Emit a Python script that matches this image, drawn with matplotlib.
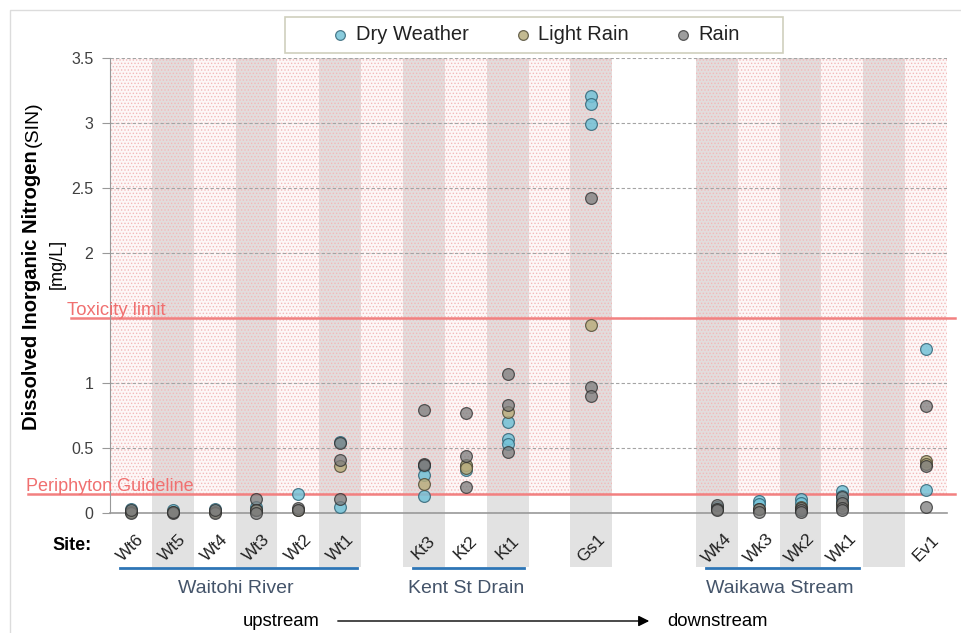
import numpy as np
import matplotlib
matplotlib.use("Agg")
import matplotlib.pyplot as plt
from matplotlib.patches import Rectangle
from matplotlib.lines import Line2D
from matplotlib.ticker import FuncFormatter
from matplotlib.transforms import blended_transform_factory

plt.rcParams['font.family'] = ['Liberation Sans', 'DejaVu Sans']
plt.rcParams['hatch.linewidth'] = 0.6

# column layout along the x axis ("" = empty column)
slots = ["Wt6", "Wt5", "Wt4", "Wt3", "Wt2", "Wt1", "", "Kt3", "Kt2", "Kt1",
         "", "Gs1", "", "", "Wk4", "Wk3", "Wk2", "Wk1", "", "Ev1"]
shaded = [1, 3, 5, 7, 9, 11, 14, 16, 18]
hatched_spans = [(0, 11), (14, 19)]

groups = [("Waitohi River", "Wt6", "Wt1"),
          ("Kent St Drain", "Kt3", "Kt1"),
          ("Waikawa Stream", "Wk4", "Wk1")]

# SIN [mg/L] per site and weather
dry = {
    "Wt6": [0.03, 0.01], "Wt5": [0.02], "Wt4": [0.03], "Wt3": [0.05, 0.02],
    "Wt2": [0.15], "Wt1": [0.55, 0.05],
    "Kt3": [0.36, 0.29, 0.13], "Kt2": [0.36, 0.33], "Kt1": [0.70, 0.57, 0.53],
    "Gs1": [3.21, 3.15, 2.99],
    "Wk4": [0.05], "Wk3": [0.09, 0.07], "Wk2": [0.11, 0.08, 0.02],
    "Wk1": [0.17, 0.13, 0.09], "Ev1": [1.26, 0.18],
}
light_rain = {
    "Wt6": [0.01], "Wt5": [0.01], "Wt4": [0.01], "Wt3": [0.02], "Wt2": [0.02],
    "Wt1": [0.36], "Kt3": [0.22], "Kt2": [0.37, 0.35], "Kt1": [0.78],
    "Gs1": [1.45], "Wk4": [0.03], "Wk3": [0.03], "Wk2": [0.05], "Wk1": [0.06],
    "Ev1": [0.40, 0.38],
}
rain = {
    "Wt6": [0.0, 0.02], "Wt5": [0.0, 0.01], "Wt4": [0.0, 0.02],
    "Wt3": [0.11, 0.02, 0.0], "Wt2": [0.04, 0.02], "Wt1": [0.54, 0.41, 0.11],
    "Kt3": [0.79, 0.38, 0.37], "Kt2": [0.77, 0.44, 0.20],
    "Kt1": [1.07, 0.83, 0.47], "Gs1": [2.42, 0.97, 0.90],
    "Wk4": [0.06, 0.03, 0.02], "Wk3": [0.03, 0.01], "Wk2": [0.04, 0.02, 0.01],
    "Wk1": [0.12, 0.08, 0.04, 0.02], "Ev1": [0.82, 0.36, 0.05],
}

toxicity = 1.5
periphyton = 0.15

series = [("Dry Weather", dry, '#74c3d8', '#35687a', 0.85),
          ("Light Rain", light_rain, '#b9ae7e', '#55503a', 0.85),
          ("Rain", rain, '#7c7c7c', '#2e2e2e', 0.75)]

W, H = 962, 633
fig = plt.figure(figsize=(W / 100, H / 100), dpi=100)
ax = fig.add_axes([110 / W, 1 - 513 / H, 837 / W, 455 / H])
ax.set_xlim(-0.5, len(slots) - 0.5)
ax.set_ylim(0, 3.5)
bx = blended_transform_factory(ax.transData, ax.transAxes)
by = blended_transform_factory(ax.transAxes, ax.transData)

# figure border
fig.add_artist(Rectangle((10 / W, -0.01), 1, 1 - 10 / H + 0.01, transform=fig.transFigure,
                         facecolor='none', edgecolor='#dcdcdc', lw=1))

# alternating grey columns, running down behind the site labels
for i in shaded:
    ax.add_patch(Rectangle((i - 0.5, -0.119), 1, 1.119, transform=bx,
                           facecolor='#e2e2e2', lw=0, clip_on=False, zorder=0))

# pink dotted area above the periphyton guideline
for a, b in hatched_spans:
    ax.add_patch(Rectangle((a - 0.5, periphyton), b - a + 1, 3.5 - periphyton,
                           facecolor=(0.93, 0.5, 0.5, 0.06), edgecolor='#f3b9b9',
                           hatch='.....', lw=0, zorder=0.5))

ax.set_yticks(np.arange(0, 3.51, 0.5))
# the 1.5 label sits under the "Toxicity limit" text
ax.yaxis.set_major_formatter(FuncFormatter(lambda v, p: "" if v == toxicity else f"{v:g}"))
ax.set_axisbelow('line')
ax.grid(axis='y', color='#a4a4a4', linestyle=(0, (3, 2)), lw=0.8)
ax.set_xticks([])
for s in ['top', 'right']:
    ax.spines[s].set_visible(False)
ax.spines['left'].set_color('#999999')
ax.spines['bottom'].set_color('#999999')
ax.spines['bottom'].set_linewidth(1.2)
ax.tick_params(axis='y', length=6, color='#999999', labelsize=11.5,
               labelcolor='#404040', pad=6)

# guideline lines
ax.add_line(Line2D([-0.046, 1.0096], [toxicity] * 2, transform=by, color='#f28080',
                   lw=1.8, clip_on=False, zorder=2))
ax.add_line(Line2D([-0.098, 1.0096], [periphyton] * 2, transform=by, color='#f28080',
                   lw=1.8, clip_on=False, zorder=2))
ax.text(-0.051, toxicity + 0.02, "Toxicity limit", transform=by, color='#f07070',
        fontsize=13.3, va='baseline', ha='left', zorder=4)
ax.text(-0.1, periphyton + 0.02, "Periphyton Guideline", transform=by, color='#f07070',
        fontsize=13, va='baseline', ha='left', zorder=4)

# points
for name, data, fc, ec, al in series:
    xs = [slots.index(site) for site, vals in data.items() for v in vals]
    ys = [v for site, vals in data.items() for v in vals]
    ax.scatter(xs, ys, s=72, facecolor=fc, edgecolor=ec, linewidth=0.9,
               alpha=al, zorder=3, clip_on=False)

# site labels
for i, site in enumerate(slots):
    if site:
        ax.text(i, -0.077, site, transform=bx, rotation=45, ha='center', va='center',
                fontsize=12.5, color='#222222')
fig.text(72 / W, 1 - 545 / H, "Site:", fontsize=13, fontweight='bold',
         ha='center', va='center')

# river groups
for label, first, last in groups:
    a, b = slots.index(first), slots.index(last)
    ax.add_line(Line2D([a - 0.25, b + 0.4], [-0.121] * 2, transform=bx,
                       color='#2e75b6', lw=2, clip_on=False))
    ax.text((a + b) / 2, -0.165, label, transform=bx, ha='center', va='center',
            fontsize=14, color='#44546a')

# upstream -> downstream
fig.text(320 / W, 1 - 621 / H, "upstream", fontsize=13.3, ha='right', va='center')
fig.text(667 / W, 1 - 621 / H, "downstream", fontsize=13.3, ha='left', va='center')
ax.annotate('', xy=(652 / W, 1 - 621 / H), xytext=(335 / W, 1 - 621 / H),
            xycoords='figure fraction', textcoords='figure fraction',
            arrowprops=dict(arrowstyle='-|>', color='black', lw=1, mutation_scale=16))

# y label
fig.text(32 / W, 1 - 430 / H, "Dissolved Inorganic Nitrogen", rotation=90,
         fontsize=14.5, fontweight='bold', ha='center', va='bottom')
fig.text(33 / W, 1 - 147 / H, "(SIN)", rotation=90, fontsize=14,
         ha='center', va='bottom')
fig.text(57 / W, 1 - 264 / H, "[mg/L]", rotation=90, fontsize=13,
         ha='center', va='center')

# legend box
fig.add_artist(Rectangle((285 / W, 1 - 53 / H), 498 / W, 36 / H, transform=fig.transFigure,
                         facecolor='white', edgecolor='#cfcfbd', lw=1.2))
for (name, data, fc, ec, al), mx, tx in zip(series, [340, 523, 683], [356, 538, 698]):
    fig.add_artist(Line2D([mx / W], [1 - 35 / H], transform=fig.transFigure, marker='o',
                          markersize=7, markerfacecolor=fc, markeredgecolor=ec,
                          markeredgewidth=0.9, alpha=al, linestyle='none'))
    fig.text(tx / W, 1 - 35 / H, name, fontsize=14.5, ha='left', va='center',
             color='#222222')

fig.savefig("out.png", dpi=100)
